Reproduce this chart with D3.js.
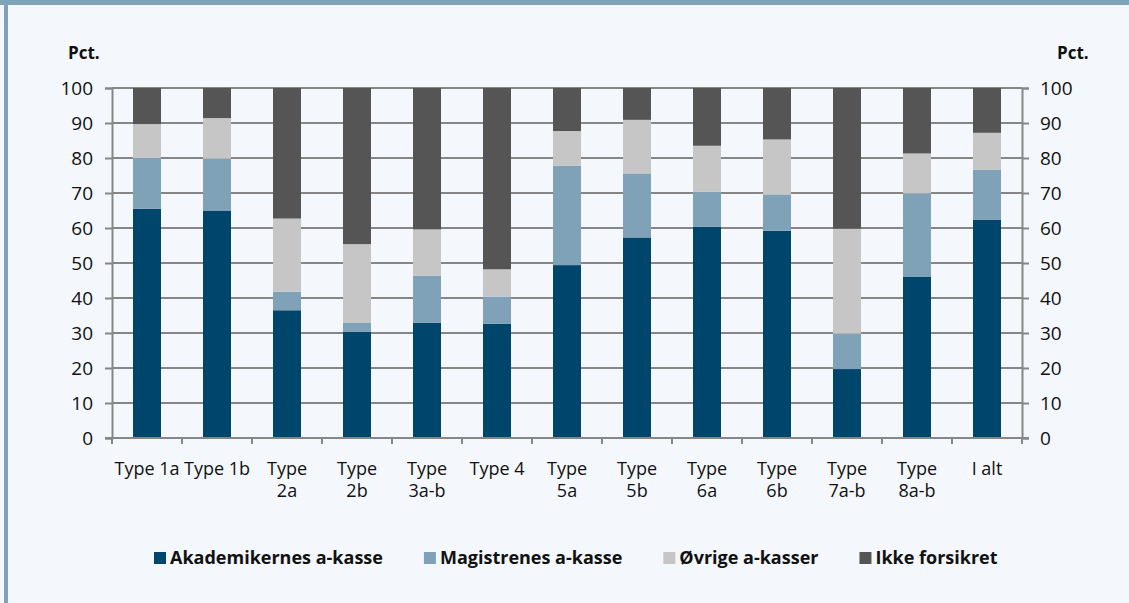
<!DOCTYPE html>
<html>
<head>
<meta charset="utf-8">
<script src="https://cdn.jsdelivr.net/npm/d3@7"></script>
<style>
  html, body { margin: 0; padding: 0; background: #F4F8FC; }
  svg { display: block; }
  text { font-family: "Open Sans", "DejaVu Sans", sans-serif; fill: #111; }
</style>
</head>
<body>
<svg id="chart" width="1129" height="603"></svg>
<script>
// ---- Data ----
const categories = ["Type 1a","Type 1b","Type 2a","Type 2b","Type 3a-b","Type 4","Type 5a","Type 5b","Type 6a","Type 6b","Type 7a-b","Type 8a-b","I alt"];
const categoryLabelLines = [["Type 1a"],["Type 1b"],["Type","2a"],["Type","2b"],["Type","3a-b"],["Type 4"],["Type","5a"],["Type","5b"],["Type","6a"],["Type","6b"],["Type","7a-b"],["Type","8a-b"],["I alt"]];
const seriesNames = ["Akademikernes a-kasse","Magistrenes a-kasse","Øvrige a-kasser","Ikke forsikret"];
const akademikernes = [65.5, 65.0, 36.5, 30.3, 32.9, 32.6, 49.4, 57.3, 60.4, 59.2, 19.7, 46.0, 62.3];
const magistrenes   = [14.5, 14.8,  5.3,  2.7, 13.5,  7.8, 28.4, 18.3, 10.0, 10.4, 10.1, 23.9, 14.4];
const oevrige       = [ 9.7, 11.6, 20.9, 22.4, 13.2,  7.8,  9.9, 15.3, 13.1, 15.7, 30.0, 11.4, 10.5];
const ikkeForsikret = [10.3,  8.6, 37.3, 44.6, 40.4, 51.8, 12.3,  9.1, 16.5, 14.7, 40.2, 18.7, 12.8];
const yTicks = [0,10,20,30,40,50,60,70,80,90,100];
const axisTitle = "Pct.";

// ---- Setup ----
const colors = ["#00456C", "#80A2B8", "#C6C6C6", "#555555"];
const svg = d3.select("#chart");
const W = 1129, H = 603;
const plot = {left: 112, right: 1022, top: 88, bottom: 438};
const gridColor = "#868686";

// frame
svg.append("rect").attr("x", 0).attr("y", 0).attr("width", W).attr("height", H).attr("fill", "#F4F8FC");
svg.append("rect").attr("x", 0).attr("y", 0).attr("width", W).attr("height", 5).attr("fill", "#7FA3BB");
svg.append("rect").attr("x", 4).attr("y", 0).attr("width", 4).attr("height", H).attr("fill", "#7FA3BB");

const table = categories.map((c, i) => ({
  category: c,
  [seriesNames[0]]: akademikernes[i],
  [seriesNames[1]]: magistrenes[i],
  [seriesNames[2]]: oevrige[i],
  [seriesNames[3]]: ikkeForsikret[i]
}));

const x = d3.scaleBand().domain(categories).range([plot.left, plot.right]).paddingInner(0.6).paddingOuter(0.3);
const y = d3.scaleLinear().domain([0, 100]).range([plot.bottom, plot.top]);
const color = d3.scaleOrdinal().domain(seriesNames).range(colors);

// gridlines
svg.append("g").selectAll("line").data(yTicks.filter(d => d > 0)).join("line")
  .attr("x1", plot.left).attr("x2", plot.right)
  .attr("y1", d => y(d)).attr("y2", d => y(d))
  .attr("stroke", gridColor).attr("stroke-width", 2);

// left axis
const leftAxis = svg.append("g").attr("transform", `translate(${plot.left},0)`)
  .call(d3.axisLeft(y).tickValues(yTicks).tickSize(7).tickPadding(12));
leftAxis.select(".domain").attr("stroke", gridColor).attr("stroke-width", 2);
leftAxis.selectAll(".tick line").attr("stroke", gridColor).attr("stroke-width", 2);
leftAxis.selectAll(".tick text").style("font-size", "19px").style("font-family", "'Open Sans', sans-serif").attr("fill", "#111");

// right axis
const rightAxis = svg.append("g").attr("transform", `translate(${plot.right},0)`)
  .call(d3.axisRight(y).tickValues(yTicks).tickSize(7).tickPadding(11));
rightAxis.select(".domain").attr("stroke", gridColor).attr("stroke-width", 2);
rightAxis.selectAll(".tick line").attr("stroke", gridColor).attr("stroke-width", 2);
rightAxis.selectAll(".tick text").style("font-size", "19px").style("font-family", "'Open Sans', sans-serif").attr("fill", "#111");

// bars
const stack = d3.stack().keys(seriesNames);
const layers = stack(table);
svg.append("g").selectAll("g").data(layers).join("g")
  .attr("fill", d => color(d.key))
  .selectAll("rect").data(d => d).join("rect")
  .attr("x", d => x(d.data.category))
  .attr("width", x.bandwidth())
  .attr("y", d => y(d[1]))
  .attr("height", d => y(d[0]) - y(d[1]));

// bottom axis
const step = x.step();
const firstBoundary = x(categories[0]) - step * x.paddingInner() / 2;
const boundaries = d3.range(categories.length + 1).map(i => firstBoundary + i * step);
const bottom = svg.append("g");
bottom.append("line").attr("x1", plot.left - 7).attr("x2", plot.right + 7)
  .attr("y1", plot.bottom).attr("y2", plot.bottom).attr("stroke", gridColor).attr("stroke-width", 2);
bottom.selectAll("line.tk").data(boundaries).join("line").attr("class", "tk")
  .attr("x1", d => d).attr("x2", d => d)
  .attr("y1", plot.bottom).attr("y2", plot.bottom + 6)
  .attr("stroke", gridColor).attr("stroke-width", 2);

// category labels
const catLabels = svg.append("g").selectAll("text").data(categories).join("text")
  .attr("text-anchor", "middle")
  .attr("x", d => x(d) + x.bandwidth() / 2)
  .attr("y", 475)
  .style("font-size", "18px");
catLabels.each(function(d, i) {
  const t = d3.select(this);
  categoryLabelLines[i].forEach((line, j) => {
    t.append("tspan").attr("x", x(d) + x.bandwidth() / 2).attr("y", 475 + j * 22).text(line);
  });
});

// axis titles
svg.append("text").text(axisTitle).attr("x", 68).attr("y", 59)
  .style("font-weight", "bold").style("font-size", "17px");
svg.append("text").text(axisTitle).attr("x", 1057).attr("y", 59)
  .style("font-weight", "bold").style("font-size", "17px");

// legend
const legend = svg.append("g");
let lx = 154;
seriesNames.forEach((name, i) => {
  legend.append("rect").attr("x", lx).attr("y", 552).attr("width", 12).attr("height", 12).attr("fill", colors[i]);
  const t = legend.append("text").text(name).attr("x", lx + 16).attr("y", 564)
    .style("font-weight", "bold").style("font-size", "18px");
  lx += 16 + t.node().getComputedTextLength() + 41;
});
</script>
</body>
</html>
